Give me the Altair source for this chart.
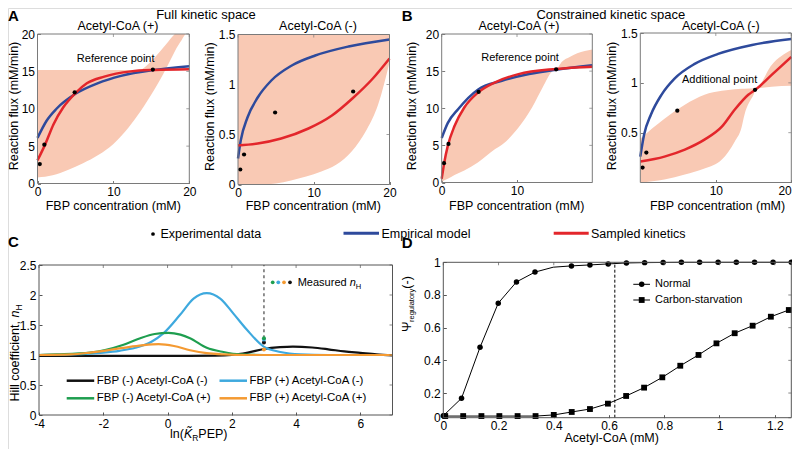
import altair as alt
import pandas as pd

W, H = 784, 441
FONT = "Liberation Sans"
RED = "#e3262b"
BLUE = "#2e4a9c"
SHADE = "#f9c9b4"
FRAME_AB = "#7a7a7a"
FRAME_CD = "#555555"
C_BLACK = "#111111"
C_LBLUE = "#3ea9de"
C_GREEN = "#1e9e4f"
C_ORANGE = "#f49a32"

# ---------------- data ----------------
# experimental points (Acetyl-CoA +) and (Acetyl-CoA -)
exp_pos_x = [0.3, 0.9, 4.9, 15.2]
exp_pos_y = [2.6, 5.2, 12.2, 15.25]
exp_neg_x = [0.3, 0.8, 4.9, 15.2]
exp_neg_y = [0.15, 0.3, 0.72, 0.93]

# Panel A1: full kinetic space, Acetyl-CoA (+)
A1_red_x = [0, 1.0, 2.1, 3.4, 5.0, 6.5, 8.8, 12.3, 15.4, 20]
A1_red_y = [3.1, 5.2, 7.9, 10.2, 12.1, 13.4, 14.3, 15.0, 15.2, 15.3]
A1_blue_x = [0, 1.2, 2.5, 5.0, 7.9, 11.0, 15.4, 20]
A1_blue_y = [6.1, 8.4, 10.0, 12.0, 13.4, 14.4, 15.2, 15.7]
A1_band_x = [0, 2, 4, 6, 8, 10, 12, 13.6, 14, 15, 16, 17, 18, 18.1, 19, 19.6, 20]
A1_band_lo = [0.8, 1.1, 1.8, 2.7, 3.8, 5.3, 7.5, 9.7, 10.3, 11.9, 13.6, 15.5, 17.5, 17.7, 19.2, 20, 20]
A1_band_hi = [15.2, 15.2, 15.2, 15.2, 15.2, 15.2, 15.2, 15.2, 15.45, 16.4, 17.5, 18.7, 19.9, 20, 20, 20, 20]

# Panel A2: full kinetic space, Acetyl-CoA (-)
A2_blue_x = [0, 0.36, 1.25, 2.6, 4.4, 7.1, 10.2, 14.6, 20]
A2_blue_y = [0.26, 0.44, 0.67, 0.87, 1.04, 1.19, 1.29, 1.38, 1.45]
A2_red_x = [0, 2.6, 5.7, 9.3, 12.4, 15.1, 17.8, 20]
A2_red_y = [0.39, 0.41, 0.46, 0.56, 0.69, 0.86, 1.06, 1.26]
A2_band_x = [0, 3, 5, 7, 9, 11, 13, 15, 17, 18.5, 20]
A2_band_lo = [0, 0, 0.01, 0.04, 0.08, 0.13, 0.2, 0.33, 0.55, 0.8, 1.22]
A2_band_hi = [1.5, 1.5, 1.5, 1.5, 1.5, 1.5, 1.5, 1.5, 1.5, 1.5, 1.5]

# Panel B1: constrained kinetic space, Acetyl-CoA (+)
B1_red_x = [0, 0.36, 0.8, 1.7, 3.0, 4.8, 7.1, 10.2, 15.2, 20]
B1_red_y = [0.5, 2.8, 4.9, 7.6, 10.1, 12.1, 13.5, 14.6, 15.3, 15.6]
B1_blue_x = [0, 0.8, 2.2, 4.8, 8.0, 11.6, 15.2, 20]
B1_blue_y = [6.0, 8.0, 9.9, 12.5, 13.7, 14.6, 15.2, 15.8]
B1_band_x = [0, 0.36, 0.8, 1.7, 3.0, 4.8, 7.1, 8, 10.2, 12, 13.4, 14.7, 15.2, 16, 17, 18, 20]
B1_band_lo = [0.1, 0.3, 0.5, 1.0, 1.6, 2.7, 4.5, 5.1, 7.4, 10.1, 12.8, 15.0, 15.2, 15.3, 15.3, 15.35, 15.4]
B1_band_hi = [0.5, 2.8, 4.9, 7.6, 10.1, 12.1, 13.5, 13.85, 14.6, 14.95, 15.15, 15.25, 15.3, 16.3, 16.9, 17.4, 17.9]

# Panel B2: constrained kinetic space, Acetyl-CoA (-)
B2_blue_x = [0, 0.5, 1.4, 2.8, 4.5, 7.2, 10.3, 14.8, 20]
B2_blue_y = [0.26, 0.48, 0.68, 0.88, 1.04, 1.19, 1.29, 1.38, 1.44]
B2_red_x = [0, 3.2, 5.9, 8.5, 10.8, 12.5, 14.3, 15.4, 17.4, 20]
B2_red_y = [0.21, 0.26, 0.33, 0.43, 0.56, 0.73, 0.88, 0.94, 1.08, 1.26]
B2_band_x = [0, 3.2, 5.9, 8.5, 10.8, 12.5, 13.4, 13.8, 15.0, 15.4, 17.4, 20]
B2_band_lo = [0.0, 0.03, 0.08, 0.14, 0.23, 0.41, 0.55, 0.68, 0.88, 0.94, 0.96, 0.97]
B2_band_hi = [0.44, 0.64, 0.78, 0.88, 0.92, 0.935, 0.94, 0.94, 0.945, 0.95, 1.18, 1.33]

# Panel C: Hill coefficient curves
C_black_x = [-4, -2, 0, 1.5, 2.0, 2.5, 3.0, 3.5, 3.9, 4.5, 5.0, 5.5, 6.0, 6.5, 7.0]
C_black_y = [0.985, 0.985, 0.985, 0.99, 1.0, 1.04, 1.10, 1.13, 1.14, 1.125, 1.095, 1.06, 1.035, 1.01, 0.995]
C_blue_x = [-4, -3, -2, -1.5, -1, -0.5, -0.13, 0.39, 0.81, 1.22, 1.64, 2.05, 2.47, 2.99, 3.51, 4.13, 5, 7]
C_blue_y = [1.0, 1.01, 1.04, 1.07, 1.12, 1.22, 1.36, 1.67, 1.94, 2.03, 1.94, 1.69, 1.42, 1.14, 1.05, 1.01, 1.0, 1.0]
C_green_x = [-4, -3.45, -2.41, -1.37, -0.85, -0.4, 0.03, 0.4, 0.7, 1.22, 1.74, 2.26, 3, 7]
C_green_y = [1.0, 1.01, 1.04, 1.17, 1.28, 1.35, 1.37, 1.34, 1.28, 1.12, 1.05, 1.01, 1.0, 1.0]
C_orange_x = [-4, -3, -2.41, -1.37, -0.8, -0.28, 0.2, 0.7, 1.22, 1.74, 2.5, 7]
C_orange_y = [1.0, 1.01, 1.04, 1.12, 1.16, 1.18, 1.15, 1.08, 1.03, 1.01, 1.0, 1.0]
C_meas_x = [3, 3, 3, 3]
C_meas_y = [1.21, 1.26, 1.28, 1.09]
C_meas_col = [C_BLACK, C_LBLUE, C_GREEN, C_ORANGE]
C_ref_x = 3
C_ref_y = [1.28, 2.5]

# Panel D: regulatory index
D_norm_x = [0, 0.066, 0.133, 0.199, 0.265, 0.332, 0.398, 0.464, 0.531, 0.597,
            0.663, 0.729, 0.796, 0.862, 0.928, 0.995, 1.061, 1.127, 1.194, 1.26]
D_norm_y = [0.061, 0.168, 0.48, 0.75, 0.88, 0.94, 0.97, 0.978, 0.984, 0.99,
            0.996, 0.998, 0.999, 1.0, 1.0, 1.0, 1.0, 1.0, 1.0, 1.0]
D_norm_nomarker = [6]
D_carb_x = [0.007, 0.072, 0.138, 0.203, 0.269, 0.334, 0.400, 0.465, 0.531, 0.596,
            0.662, 0.727, 0.793, 0.858, 0.924, 0.989, 1.055, 1.120, 1.186, 1.251]
D_carb_y = [0.059, 0.059, 0.059, 0.059, 0.059, 0.059, 0.066, 0.084, 0.102, 0.135,
            0.182, 0.233, 0.296, 0.367, 0.433, 0.504, 0.566, 0.612, 0.667, 0.708]
D_ref_x = 0.621

# ---------------- helpers ----------------
AW = {' ': 278, '(': 333, ')': 333, '-': 333, ',': 278, '.': 278, 'A': 667, 'B': 667,
      'C': 722, 'E': 667, 'F': 611, 'H': 722, 'K': 667, 'M': 833, 'P': 667, 'R': 722,
      'a': 556, 'c': 500, 'd': 556, 'e': 556, 'f': 278, 'g': 556, 'i': 222, 'l': 222,
      'm': 833, 'n': 556, 'o': 556, 'p': 556, 'r': 333, 's': 500, 't': 278, 'u': 556,
      'v': 500, 'y': 500, 'Ψ': 800, '\u0303': 0}


def tw(s, size):
    return sum(AW.get(c, 556) for c in s) * size / 1000.0


ONE = pd.DataFrame({"k": [0]})


def txt(s, x, y, size=12.5, align="center", baseline="alphabetic", angle=0,
        style="normal", weight="normal", dx=0, dy=0, color="black"):
    return alt.Chart(ONE).mark_text(
        text=s, font=FONT, fontSize=size, align=align, baseline=baseline, angle=angle,
        fontStyle=style, fontWeight=weight, dx=dx, dy=dy, color=color
    ).encode(x=alt.value(x), y=alt.value(y))


def seg(x1, x2, y, color, width):
    return alt.Chart(ONE).mark_rule(color=color, strokeWidth=width).encode(
        x=alt.value(x1), x2=alt.value(x2), y=alt.value(y))


def glyph(x, y, shape, size, color="black"):
    return alt.Chart(ONE).mark_point(filled=True, shape=shape, size=size, color=color,
                                     opacity=1).encode(x=alt.value(x), y=alt.value(y))


# no axis given here: the panel's axes come from one holder layer (explicit settings win the merge)
def XQ(f, xs):
    return alt.X(f, type="quantitative", scale=xs)


def YQ(f, ys):
    return alt.Y(f, type="quantitative", scale=ys)


def line(xv, yv, xs, ys, color, width, interp="monotone", dash=None):
    d = pd.DataFrame({"x": xv, "y": yv})
    kw = dict(color=color, strokeWidth=width, interpolate=interp)
    if dash:
        kw["strokeDash"] = dash
    return alt.Chart(d).mark_line(**kw).encode(x=XQ("x", xs), y=YQ("y", ys))


def band(xv, lo, hi, xs, ys):
    d = pd.DataFrame({"x": xv, "lo": lo, "hi": hi})
    return alt.Chart(d).mark_area(color=SHADE, interpolate="monotone", opacity=1).encode(
        x=XQ("x", xs), y=YQ("lo", ys), y2="hi")


def dots(xv, yv, xs, ys, size=18, shape="circle", color="black"):
    d = pd.DataFrame({"x": xv, "y": yv})
    return alt.Chart(d).mark_point(filled=True, shape=shape, size=size, color=color,
                                   opacity=1).encode(x=XQ("x", xs), y=YQ("y", ys))


def note(s, xv, yv, xs, ys, size=11):
    d = pd.DataFrame({"x": [xv], "y": [yv]})
    return alt.Chart(d).mark_text(text=s, font=FONT, fontSize=size, color="black").encode(
        x=XQ("x", xs), y=YQ("y", ys))


def make_panel(xdom, xr, ydom, yr, xt, yt, build, color, lbl="'' + datum.value", flush=False):
    xs = alt.Scale(domain=xdom, range=xr, nice=False, zero=False)
    ys = alt.Scale(domain=ydom, range=yr, nice=False, zero=False)

    def ax(orient, offset, vals, fl):
        return alt.Axis(orient=orient, offset=offset, values=vals, title=None, grid=False,
                        domain=False, ticks=True, tickSize=3, tickColor=color, tickWidth=1,
                        labelFont=FONT, labelFontSize=12, labelColor="black", labelPadding=3,
                        labelFlush=fl, labelOverlap=False, labelExpr=lbl)

    fr = pd.DataFrame({"x0": [xdom[0]], "x1": [xdom[1]], "y0": [ydom[0]], "y1": [ydom[1]]})
    holder = alt.Chart(fr).mark_rect(fillOpacity=0, strokeOpacity=0).encode(
        x=alt.X("x0:Q", scale=xs, axis=ax("bottom", yr[0] - 3 - H, xt, flush)),
        x2="x1:Q",
        y=alt.Y("y0:Q", scale=ys, axis=ax("left", -(xr[0] + 3), yt, False)),
        y2="y1:Q")
    frame = alt.Chart(fr).mark_rect(fillOpacity=0, stroke=color, strokeWidth=1).encode(
        x=XQ("x0", xs), x2="x1:Q", y=YQ("y0", ys), y2="y1:Q")
    rt = alt.Chart(pd.DataFrame({"v": yt, "e": [xdom[1]] * len(yt)})).mark_tick(
        orient="horizontal", size=3, thickness=1, xOffset=-1.5, color=color).encode(
        x=XQ("e", xs), y=YQ("v", ys))
    tp = alt.Chart(pd.DataFrame({"v": xt, "e": [ydom[1]] * len(xt)})).mark_tick(
        orient="vertical", size=3, thickness=1, yOffset=1.5, color=color).encode(
        x=XQ("v", xs), y=YQ("e", ys))
    return alt.layer(holder, *build(xs, ys), frame, rt, tp)


# ---------------- panels ----------------
def build_A1(xs, ys):
    return [band(A1_band_x, A1_band_lo, A1_band_hi, xs, ys),
            line(A1_blue_x, A1_blue_y, xs, ys, BLUE, 2.5),
            line(A1_red_x, A1_red_y, xs, ys, RED, 2.5),
            dots(exp_pos_x, exp_pos_y, xs, ys),
            note("Reference point", 10.3, 16.7, xs, ys)]


def build_A2(xs, ys):
    return [band(A2_band_x, A2_band_lo, A2_band_hi, xs, ys),
            line(A2_blue_x, A2_blue_y, xs, ys, BLUE, 2.5),
            line(A2_red_x, A2_red_y, xs, ys, RED, 2.5),
            dots(exp_neg_x, exp_neg_y, xs, ys)]


def build_B1(xs, ys):
    return [band(B1_band_x, B1_band_lo, B1_band_hi, xs, ys),
            line(B1_blue_x, B1_blue_y, xs, ys, BLUE, 2.5),
            line(B1_red_x, B1_red_y, xs, ys, RED, 2.5),
            dots(exp_pos_x, exp_pos_y, xs, ys),
            note("Reference point", 10.4, 16.8, xs, ys)]


def build_B2(xs, ys):
    return [band(B2_band_x, B2_band_lo, B2_band_hi, xs, ys),
            line(B2_blue_x, B2_blue_y, xs, ys, BLUE, 2.5),
            line(B2_red_x, B2_red_y, xs, ys, RED, 2.5),
            dots(exp_neg_x, exp_neg_y, xs, ys),
            note("Additional point", 10.5, 1.03, xs, ys)]


def build_C(xs, ys):
    rule = alt.Chart(pd.DataFrame({"x": [C_ref_x], "y": [C_ref_y[0]], "y2": [C_ref_y[1]]})).mark_rule(
        color="#555555", strokeDash=[3, 3], strokeWidth=1.3).encode(
        x=XQ("x", xs), y=YQ("y", ys), y2="y2")
    out = [rule,
           line(C_black_x, C_black_y, xs, ys, C_BLACK, 2.2),
           line(C_blue_x, C_blue_y, xs, ys, C_LBLUE, 2.2),
           line(C_green_x, C_green_y, xs, ys, C_GREEN, 2.2),
           line(C_orange_x, C_orange_y, xs, ys, C_ORANGE, 2.2)]
    for i in range(4):
        out.append(dots([C_meas_x[i]], [C_meas_y[i]], xs, ys, size=16, color=C_meas_col[i]))
    return out


def build_D(xs, ys):
    rule = alt.Chart(pd.DataFrame({"x": [D_ref_x], "y": [0.049], "y2": [1.0]})).mark_rule(
        color="black", strokeDash=[3, 2], strokeWidth=1).encode(
        x=XQ("x", xs), y=YQ("y", ys), y2="y2")
    mk = [i for i in range(len(D_norm_x)) if i not in D_norm_nomarker]
    return [rule,
            line(D_norm_x, D_norm_y, xs, ys, "black", 1, interp="linear"),
            line(D_carb_x, D_carb_y, xs, ys, "black", 1, interp="linear"),
            dots([D_norm_x[i] for i in mk], [D_norm_y[i] for i in mk], xs, ys, size=30),
            dots(D_carb_x, D_carb_y, xs, ys, size=34, shape="square")]


pA1 = make_panel([0, 20], [29.5, 181.3], [0, 20], [175.5, 26], [0, 10, 20], [0, 5, 10, 15, 20], build_A1, FRAME_AB)
pA2 = make_panel([0, 20], [230, 381.5], [0, 1.5], [176.5, 26.5], [0, 10, 20], [0, 0.5, 1, 1.5], build_A2, FRAME_AB)
pB1 = make_panel([0, 20], [433.7, 584.3], [0, 20], [174.5, 26], [0, 10], [0, 5, 10, 15, 20], build_B1, FRAME_AB)
pB2 = make_panel([0, 20], [632.3, 783.3], [0, 1.5], [174.5, 25], [10, 20], [0.5, 1, 1.5], build_B2, FRAME_AB,
                 flush=True)
pC = make_panel([-4, 7], [31, 384.5], [0, 2.5], [407, 257], [-4, -2, 0, 2, 4, 6], [0, 0.5, 1, 1.5, 2, 2.5], build_C, FRAME_CD)
pD = make_panel([0, 1.26], [435.3, 783.3], [0.049, 1], [409.7, 254.3], [0, 0.2, 0.4, 0.6, 0.8, 1, 1.2],
                [0.049, 0.2, 0.4, 0.6, 0.8, 1], build_D, FRAME_CD,
                lbl="datum.value < 0.1 && datum.value > 0.01 ? '0' : '' + datum.value")

# ---------------- texts / legends ----------------
deco = []
deco += [txt("A", 0, 13, 15, align="left", weight="bold"),
         txt("B", 393.7, 13, 15, align="left", weight="bold"),
         txt("C", 0, 238.7, 15, align="left", weight="bold"),
         txt("D", 393.7, 239.5, 15, align="left", weight="bold"),
         txt("Full kinetic space", 198, 10.5, 13),
         txt("Constrained kinetic space", 602.8, 10.5, 13),
         txt("Acetyl-CoA (+)", 110, 21.5, 12.5),
         txt("Acetyl-CoA (-)", 310, 21.5, 12.5),
         txt("Acetyl-CoA (+)", 511, 21.5, 12.5),
         txt("Acetyl-CoA (-)", 712.8, 21.5, 12.5)]
for (x, y) in [(10, 98), (206, 98.7), (408, 98), (608, 98)]:
    deco.append(txt("Reaction flux (mM/min)", x, y, 12.5, angle=270))
for x in [105.3, 305.3, 508.7, 709.5]:
    deco.append(txt("FBP concentration (mM)", x, 202, 12.5))

# common legend row
deco += [glyph(145, 226, "circle", 14),
         txt("Experimental data", 152.4, 226, 12.5, align="left", baseline="middle"),
         seg(335.5, 371, 225.2, BLUE, 3),
         txt("Empirical model", 373.5, 226, 12.5, align="left", baseline="middle"),
         seg(545.7, 580.7, 225.2, RED, 3),
         txt("Sampled kinetics", 583, 226, 12.5, align="left", baseline="middle")]

# panel C legend
c_leg = [("FBP (-) Acetyl-CoA (-)", C_BLACK, 58.7, 372.7),
         ("FBP (+) Acetyl-CoA (-)", C_LBLUE, 211.5, 372.7),
         ("FBP (-) Acetyl-CoA (+)", C_GREEN, 58.7, 390.3),
         ("FBP (+) Acetyl-CoA (+)", C_ORANGE, 211.5, 390.3)]
for lab, col, x0, y0 in c_leg:
    deco.append(seg(x0, x0 + 27.5, y0, col, 2.5))
    deco.append(txt(lab, x0 + 30, y0, 11.5, align="left", baseline="middle"))
for xi, col in zip([264.7, 270.3, 276, 282], [C_GREEN, C_LBLUE, C_ORANGE, C_BLACK]):
    deco.append(glyph(xi, 274.3, "circle", 14, col))
mx = 289.7
deco.append(txt("Measured ", mx, 278.2, 11, align="left"))
deco.append(txt("n", mx + tw("Measured ", 11), 278.2, 11, align="left", style="italic"))
deco.append(txt("H", mx + tw("Measured n", 11), 278.2, 7.5, align="left", dy=2.5))

# panel C axis titles
cy0 = 393.5
deco.append(txt("Hill coefficient, ", 11, cy0, 12.5, align="left", angle=270))
deco.append(txt("n", 11, cy0, 12.5, align="left", angle=270, style="italic",
                dx=tw("Hill coefficient, ", 12.5)))
deco.append(txt("H", 11, cy0, 8.5, align="left", angle=270,
                dx=tw("Hill coefficient, n", 12.5), dy=3))
cx0 = 162
deco.append(txt("ln(", cx0, 429.5, 12.5, align="left"))
deco.append(txt("K\u0303", cx0 + tw("ln(", 12.5), 429.5, 12.5, align="left", style="italic"))
deco.append(txt("R", cx0 + tw("ln(K", 12.5), 429.5, 8.5, align="left", dy=3))
deco.append(txt("PEP)", cx0 + tw("ln(K", 12.5) + tw("R", 8.5), 429.5, 12.5, align="left"))

# panel D legend and axis titles
deco += [seg(625.3, 642, 276.3, "black", 1), glyph(633.7, 276.3, "circle", 30),
         txt("Normal", 647, 276.3, 11, align="left", baseline="middle"),
         seg(625.3, 642, 292, "black", 1), glyph(633.7, 292, "square", 34),
         txt("Carbon-starvation", 647, 292, 11, align="left", baseline="middle"),
         txt("Acetyl-CoA (mM)", 603.7, 433.5, 12.5)]
dy0 = 324
deco.append(txt("Ψ", 403, dy0, 12.5, align="left", angle=270))
deco.append(txt("regulatory", 403, dy0, 7.5, align="left", angle=270, dx=tw("Ψ", 12.5), dy=3))
deco.append(txt("(-)", 403, dy0, 12.5, align="left", angle=270,
                dx=tw("Ψ", 12.5) + tw("regulatory", 7.5)))

chart = alt.layer(pA1, pA2, pB1, pB2, pC, pD, *deco).resolve_scale(
    x="independent", y="independent").resolve_axis(
    x="independent", y="independent").properties(
    width=W, height=H, padding=0, autosize=alt.AutoSizeParams(type="none")
).configure_view(stroke=None).configure(font=FONT)

chart.save("out.html", embed_options={"renderer": "svg", "actions": False})
